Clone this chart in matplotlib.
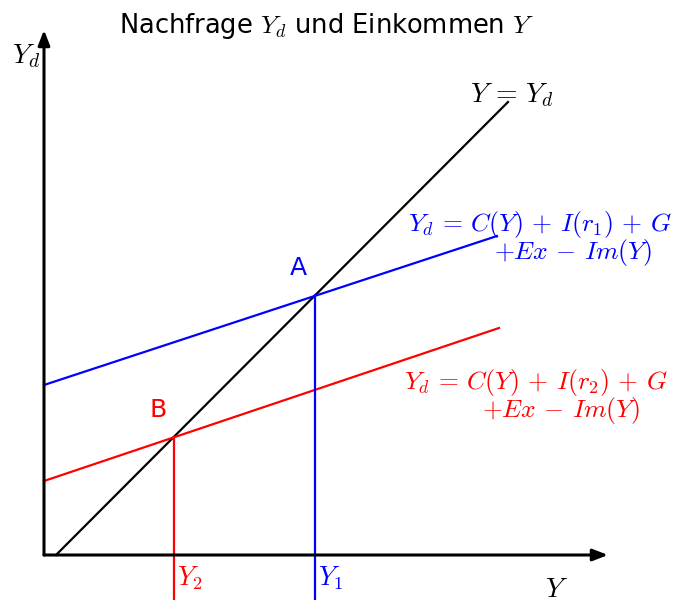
"""
Nachfrage Yd und Einkommen Y (Keynesianisches Kreuz)
"""
from matplotlib import pyplot as plt

plt.rcParams['mathtext.fontset'] = 'cm'
plt.rcParams['font.family'] = 'DejaVu Sans'

# Werte (Einheiten frei gewaehlt, Ursprung = Achsenursprung)
diag_x = [12, 464]
diag_y = [0, 453]
blau_x = [0, 453]
blau_y = [170, 319]
rot_x = [0, 455]
rot_y = [74, 227]
Y1, A_y = 271, 260
Y2, B_y = 130, 118
achse_x_max = 564
achse_y_max = 525


def main():
    f = plt.figure(figsize=(6.75, 6), dpi=100)
    ax = f.add_axes([0, 0, 1, 1])
    ax.set_xlim(-44, 631)
    ax.set_ylim(-45, 555)
    ax.axis('off')

    # Achsen mit Pfeilen
    pfeil = dict(arrowstyle='-|>,head_length=0.9,head_width=0.35', color='black', lw=2.2,
                 shrinkA=0, shrinkB=0)
    ax.annotate('', xy=(achse_x_max, 0), xytext=(0, 0), arrowprops=pfeil)
    ax.annotate('', xy=(0, achse_y_max), xytext=(0, 0), arrowprops=pfeil)

    ax.plot(diag_x, diag_y, color='black', lw=1.6)
    ax.plot(blau_x, blau_y, color='blue', lw=1.6)
    ax.plot(rot_x, rot_y, color='red', lw=1.6)
    ax.plot([Y1, Y1], [A_y, -45], color='blue', lw=1.6)
    ax.plot([Y2, Y2], [B_y, -45], color='red', lw=1.6)

    ax.text(283, 529, r'Nachfrage $Y_d$ und Einkommen $Y$', fontsize=18.5, ha='center', va='center')
    ax.text(-18, 499, r'$Y_d$', fontsize=20, ha='center', va='center')
    ax.text(513, -20, r'$Y$', fontsize=20, ha='center', va='top')
    ax.text(468, 460, r'$Y \,=\, Y_d$', fontsize=20, ha='center', va='center')
    ax.text(254, 287, 'A', fontsize=18, color='blue', ha='center', va='center')
    ax.text(114, 145, 'B', fontsize=18, color='red', ha='center', va='center')
    ax.text(274, -23, r'$Y_1$', fontsize=19, color='blue', ha='left', va='center')
    ax.text(133, -23, r'$Y_2$', fontsize=19, color='red', ha='left', va='center')

    ax.text(628, 330, r'$Y_d \,=\, C(Y) \,+\, I(r_1) \,+\, G$', fontsize=18.5, color='blue',
            ha='right', va='center')
    ax.text(608, 302, r'$+Ex \,-\, Im(Y)$', fontsize=18.5, color='blue', ha='right', va='center')
    ax.text(624, 172, r'$Y_d \,=\, C(Y) \,+\, I(r_2) \,+\, G$', fontsize=18.5, color='red',
            ha='right', va='center')
    ax.text(596, 144, r'$+Ex \,-\, Im(Y)$', fontsize=18.5, color='red', ha='right', va='center')

    f.savefig('out.png', dpi=100)


if __name__ == '__main__':
    main()
